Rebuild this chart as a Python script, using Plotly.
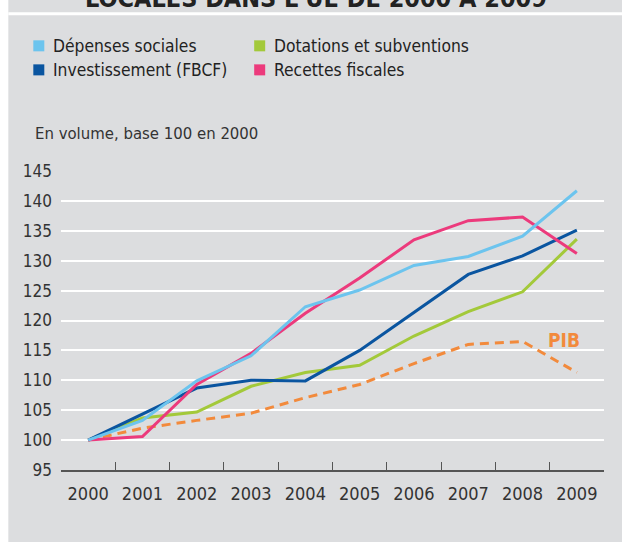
import plotly.graph_objects as go

years = ["2000", "2001", "2002", "2003", "2004", "2005", "2006", "2007", "2008", "2009"]
depenses_sociales = [100, 103.3, 109.9, 114.1, 122.3, 125.1, 129.2, 130.7, 134.1, 141.7]
investissement = [100, 104.4, 108.7, 110.0, 109.9, 115.0, 121.4, 127.7, 130.8, 135.1]
dotations = [100, 103.7, 104.7, 109.0, 111.3, 112.5, 117.4, 121.5, 124.8, 133.6]
recettes = [100, 100.6, 109.3, 114.5, 121.2, 127.1, 133.5, 136.7, 137.3, 131.2]
pib = [100, 102.0, 103.3, 104.5, 107.1, 109.3, 112.8, 116.0, 116.5, 111.3]
y_ticks = [95, 100, 105, 110, 115, 120, 125, 130, 135, 140, 145]
legend_names = ["Dépenses sociales", "Dotations et subventions", "Investissement (FBCF)", "Recettes fiscales"]

C_LB = "#6cc4ee"
C_DB = "#0a55a0"
C_GR = "#a3c93a"
C_PK = "#ec3a7c"
C_OR = "#f28a3c"
BG = "#dcdddf"
FONT = "DejaVu Sans Condensed, Liberation Sans, Arial, sans-serif"

W, H = 622, 542
L, R, T, B = 60.7, 18, 171, 72.4
pw, ph = W - L - R, H - T - B


def px_x(p):
    return (p - L) / pw


def px_y(p):
    return (H - B - p) / ph


fig = go.Figure()

fig.add_trace(go.Scatter(x=years, y=pib, mode="lines", line=dict(color=C_OR, width=3, dash="9px,6px"), showlegend=False))
fig.add_trace(go.Scatter(x=years, y=dotations, mode="lines", line=dict(color=C_GR, width=3), showlegend=False))
fig.add_trace(go.Scatter(x=years, y=investissement, mode="lines", line=dict(color=C_DB, width=3), showlegend=False))
fig.add_trace(go.Scatter(x=years, y=recettes, mode="lines", line=dict(color=C_PK, width=3), showlegend=False))
fig.add_trace(go.Scatter(x=years, y=depenses_sociales, mode="lines", line=dict(color=C_LB, width=3), showlegend=False))

# manual legend (2 columns)
legend_colors = [C_LB, C_GR, C_DB, C_PK]
col_x = [33, 254]
row_y = [46, 70]
for i, (name, col) in enumerate(zip(legend_names, legend_colors)):
    cx = col_x[i % 2]
    cy = row_y[i // 2]
    fig.add_shape(type="rect", xref="paper", yref="paper", x0=px_x(cx), x1=px_x(cx + 11),
                  y0=px_y(cy + 5.5), y1=px_y(cy - 5.5), fillcolor=col, line_width=0)
    fig.add_annotation(x=px_x(cx + 18), y=px_y(cy), xref="paper", yref="paper", text=name, showarrow=False,
                       xanchor="left", yanchor="middle", font=dict(family=FONT, size=17.3, color="#222222"))

fig.add_annotation(x=8.77, y=116.8, xref="x", yref="y", text="<b>PIB</b>", showarrow=False,
                   font=dict(family=FONT, size=19, color=C_OR))

fig.add_annotation(x=px_x(33), y=px_y(134), xref="paper", yref="paper", text="En volume, base 100 en 2000",
                   showarrow=False, xanchor="left", yanchor="middle", font=dict(family=FONT, size=16.6, color="#333333"))

# cut-off title from above
fig.add_annotation(x=px_x(316), y=px_y(15), xref="paper", yref="paper", text="<b>LOCALES DANS L'UE DE 2000 À 2009</b>",
                   showarrow=False, xanchor="center", yanchor="bottom", font=dict(family=FONT, size=25, color="#222222"))

fig.add_shape(type="rect", xref="paper", yref="paper", x0=px_x(-5), x1=px_x(8), y0=px_y(560), y1=px_y(-20),
              fillcolor="white", line_width=0, layer="below")
fig.add_shape(type="rect", xref="paper", yref="paper", x0=px_x(8), x1=px_x(630), y0=px_y(15.5), y1=px_y(12.5),
              fillcolor="white", line_width=0, layer="below")

fig.update_layout(
    width=W, height=H,
    margin=dict(l=L, r=R, t=T, b=B, autoexpand=False),
    paper_bgcolor=BG, plot_bgcolor=BG,
    font=dict(family=FONT, color="#333333"),
    showlegend=False,
    xaxis=dict(type="category", range=[-0.5, 9.5], tickson="boundaries", ticks="inside", ticklen=8,
               tickcolor="#555555", tickwidth=1.3, showline=True, linecolor="#555555", linewidth=1.5,
               showgrid=False, tickfont=dict(family=FONT, size=18, color="#333333"), ticklabelstandoff=7),
    yaxis=dict(range=[95, 145], tickvals=y_ticks, showgrid=True, gridcolor="white", gridwidth=2,
               zeroline=False, showline=False, ticks="", tickfont=dict(family=FONT, size=17, color="#333333"),
               ticklabelstandoff=8),
)

fig.write_html(
    "out.html",
    config={"displayModeBar": False},
    post_script=(
        "document.documentElement.style.margin='0';document.documentElement.style.overflow='hidden';"
        "document.body.style.margin='0';document.body.style.overflow='hidden';"
        "document.body.style.background='#dcdddf';"
    ),
)
